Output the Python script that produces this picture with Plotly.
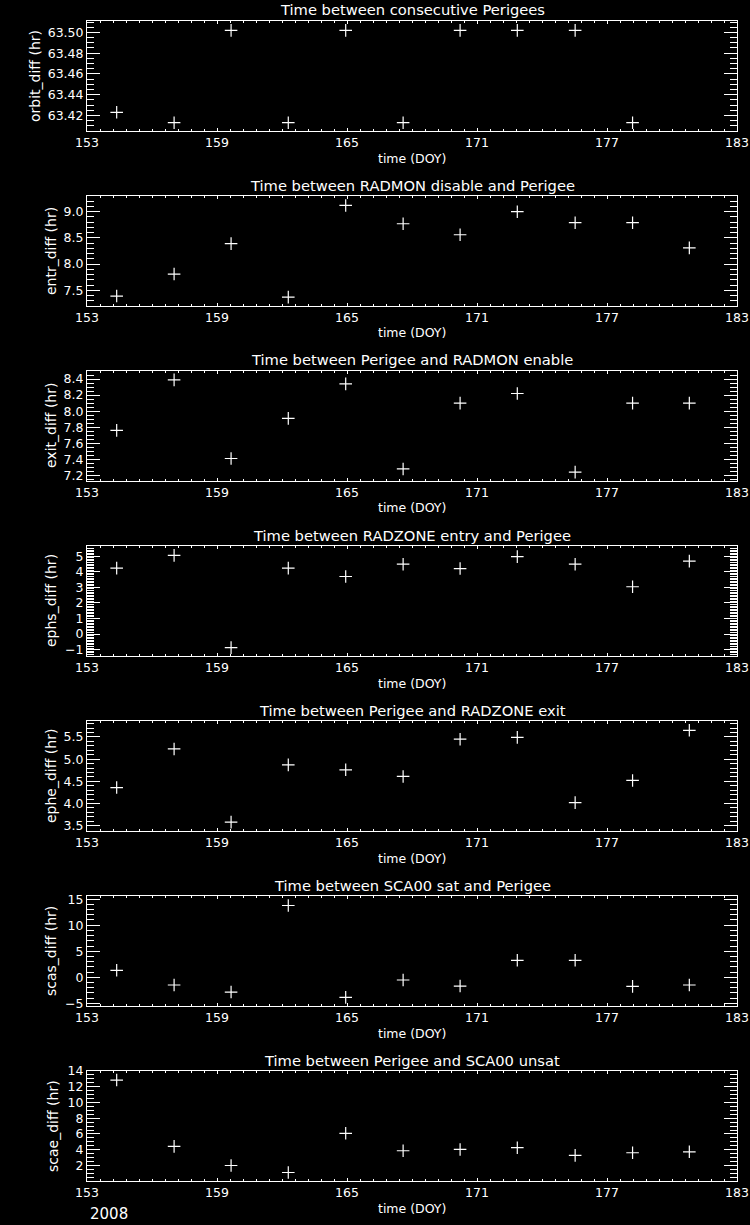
import plotly.graph_objects as go

W, H = 750, 1225

# Perigee passage times (day of year, 2008)
doy = [154.37, 157.02, 159.65, 162.29, 164.94, 167.59, 170.22, 172.86, 175.53, 178.18, 180.80]

orbit_diff = [63.423, 63.413, 63.502, 63.413, 63.502, 63.413, 63.502, 63.502, 63.502, 63.413]
entr_diff = [7.39, 7.81, 8.39, 7.37, 9.12, 8.77, 8.56, 9.00, 8.79, 8.79, 8.31]
exit_diff = [7.76, 8.39, 7.41, 7.91, 8.34, 7.28, 8.10, 8.22, 7.24, 8.10, 8.10]
ephs_diff = [4.24, 5.06, -0.87, 4.24, 3.70, 4.49, 4.21, 4.98, 4.49, 3.04, 4.69]
ephe_diff = [4.36, 5.23, 3.58, 4.87, 4.76, 4.61, 5.45, 5.49, 4.02, 4.52, 5.65]
scas_diff = [1.35, -1.47, -2.82, 13.78, -3.85, -0.51, -1.67, 3.27, 3.27, -1.73, -1.47]
scae_diff = [12.85, 4.43, 2.00, 1.11, 6.09, 3.87, 4.04, 4.26, 3.28, 3.62, 3.74]

titles = [
    "Time between consecutive Perigees",
    "Time between RADMON disable and Perigee",
    "Time between Perigee and RADMON enable",
    "Time between RADZONE entry and Perigee",
    "Time between Perigee and RADZONE exit",
    "Time between SCA00 sat and Perigee",
    "Time between Perigee and SCA00 unsat",
]
ytitles = ["orbit_diff (hr)", "entr_diff (hr)", "exit_diff (hr)", "ephs_diff (hr)",
           "ephe_diff (hr)", "scas_diff (hr)", "scae_diff (hr)"]
series = [orbit_diff, entr_diff, exit_diff, ephs_diff, ephe_diff, scas_diff, scae_diff]

# axis settings per panel: (range, major step, minor step, format)
yaxes_cfg = [
    ([63.405, 63.511], 0.02, 0.005, ".2f"),
    ([7.2, 9.3], 0.5, 0.1, ".1f"),
    ([7.13, 8.5], 0.2, 0.05, ".1f"),
    ([-1.41, 5.66], 1, 0.1, "d"),
    ([3.38, 5.86], 0.5, 0.1, ".1f"),
    ([-5.5, 15.6], 5, 1, "d"),
    ([0.03, 14.0], 2, 0.5, "d"),
]
ytitle_x = [35, 51, 51, 51, 51, 51, 53]

xticks = [153, 159, 165, 171, 177, 183]

X0, X1 = 87, 737
PANEL_STEP = 175
TOP0, BOT0 = 21, 131

font_main = "DejaVu Sans"
white = "#ffffff"

fig = go.Figure()
annotations = []
layout = dict(
    width=W, height=H,
    margin=dict(l=0, r=0, t=0, b=0, pad=0, autoexpand=False),
    paper_bgcolor="black", plot_bgcolor="black",
    showlegend=False,
)

for i in range(7):
    n = i + 1
    sfx = "" if n == 1 else str(n)
    top = TOP0 + PANEL_STEP * i
    bot = BOT0 + PANEL_STEP * i
    ys = series[i]
    fig.add_trace(go.Scatter(
        x=doy[:len(ys)], y=ys, mode="markers",
        marker=dict(symbol="cross-thin", size=9, line=dict(color=white, width=1.2)),
        xaxis="x" + sfx, yaxis="y" + sfx,
    ))
    yr, dt, mdt, fmt = yaxes_cfg[i]
    layout["xaxis" + sfx] = dict(
        domain=[X0 / W, X1 / W], anchor="y" + sfx, automargin=False,
        range=[153, 183], tickvals=xticks, ticktext=[str(t) for t in xticks],
        ticks="inside", ticklen=3, tickcolor=white, tickwidth=1,
        minor=dict(tick0=153, dtick=0.6, ticks="inside", ticklen=2, tickcolor=white, tickwidth=1),
        showline=True, linecolor=white, linewidth=1, mirror="ticks",
        showgrid=False, zeroline=False,
        tickfont=dict(family=font_main, size=12.5, color=white),
    )
    layout["yaxis" + sfx] = dict(
        domain=[1 - bot / H, 1 - top / H], anchor="x" + sfx, automargin=False,
        range=yr, tick0=0, dtick=dt, tickformat=fmt,
        ticks="inside", ticklen=13, tickcolor=white, tickwidth=1,
        minor=dict(dtick=mdt, ticks="inside", ticklen=7, tickcolor=white, tickwidth=1),
        showline=True, linecolor=white, linewidth=1, mirror="ticks",
        showgrid=False, zeroline=False,
        tickfont=dict(family=font_main, size=12.5, color=white),
    )
    cy = (top + bot) / 2
    annotations.append(dict(
        text=titles[i], x=(X0 + X1) / 2 / W, y=1 - (top - 11) / H,
        xref="paper", yref="paper", xanchor="center", yanchor="middle",
        showarrow=False, font=dict(family=font_main, size=14.7, color=white),
    ))
    annotations.append(dict(
        text="time (DOY)", x=(X0 + X1) / 2 / W, y=1 - (bot + 27) / H,
        xref="paper", yref="paper", xanchor="center", yanchor="middle",
        showarrow=False, font=dict(family=font_main, size=12.5, color=white),
    ))
    annotations.append(dict(
        text=ytitles[i], x=ytitle_x[i] / W, y=1 - cy / H, textangle=-90,
        xref="paper", yref="paper", xanchor="center", yanchor="middle",
        showarrow=False, font=dict(family=font_main, size=14, color=white),
    ))

annotations.append(dict(
    text="2008", x=88 / W, y=1 - 1214 / H,
    xref="paper", yref="paper", xanchor="left", yanchor="middle",
    showarrow=False, font=dict(family=font_main, size=15, color=white),
))

layout["annotations"] = annotations
fig.update_layout(**layout)
fig.write_html("out.html")
